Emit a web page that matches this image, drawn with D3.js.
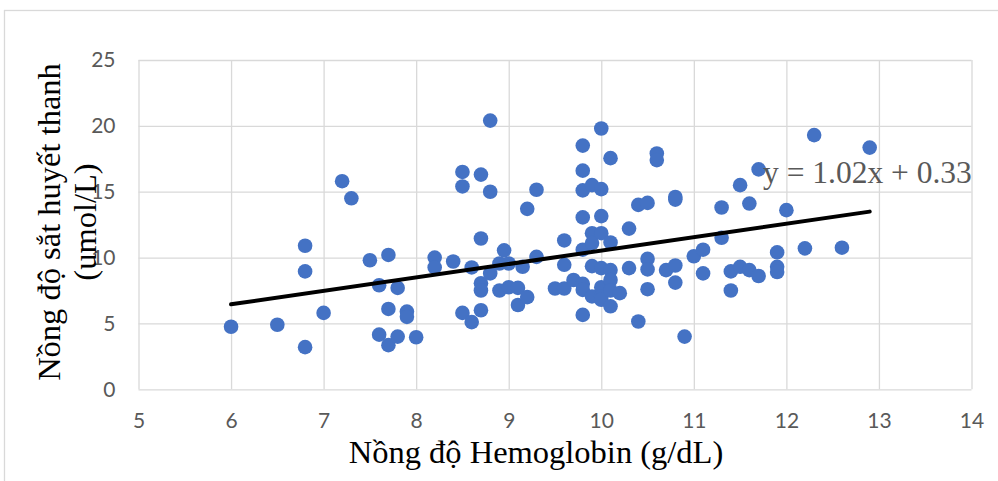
<!DOCTYPE html>
<html>
<head>
<meta charset="utf-8">
<script src="https://cdn.jsdelivr.net/npm/d3@7"></script>
<style>
  body { margin: 0; background: #fff; }
  .tick text { font-family: Lato, "Open Sans", sans-serif; font-size: 21px; fill: #595959; }
  .tick line { stroke: #d9d9d9; stroke-width: 1.3; }
  .domain { display: none; }
</style>
</head>
<body>
<div id="chart"></div>
<script>
// Hemoglobin (g/dL)
const hb = [
  6.0, 6.5, 6.8, 6.8, 6.8, 7.0, 7.2, 7.3, 7.5, 7.6, 7.6, 7.7, 7.7, 7.7, 7.8, 7.8,
  7.9, 7.9, 8.0, 8.2, 8.2, 8.4, 8.5, 8.5, 8.5, 8.6, 8.6, 8.7, 8.7, 8.7, 8.7, 8.7,
  8.8, 8.8, 8.8, 8.9, 8.9, 8.95, 9.0, 9.0, 9.1, 9.1, 9.15, 9.2, 9.2, 9.3, 9.3,
  9.5, 9.6, 9.6, 9.6, 9.7, 9.8, 9.8, 9.8, 9.8, 9.8, 9.8, 9.8, 9.8, 9.9, 9.9, 9.9,
  9.9, 9.9, 10.0, 10.0, 10.0, 10.0, 10.0, 10.0, 10.0, 10.0, 10.1, 10.1, 10.1, 10.1,
  10.1, 10.1, 10.2, 10.3, 10.3, 10.4, 10.4, 10.5, 10.5, 10.5, 10.5, 10.6, 10.6,
  10.7, 10.8, 10.8, 10.8, 10.8, 10.9, 11.0, 11.1, 11.1, 11.3, 11.3, 11.4, 11.4,
  11.5, 11.5, 11.6, 11.6, 11.7, 11.7, 11.9, 11.9, 11.9, 12.0, 12.2, 12.3, 12.6, 12.9
];
// Serum iron (umol/L)
const iron = [
  4.75, 4.9, 10.9, 8.95, 3.2, 5.8, 15.8, 14.5, 9.8, 7.9, 4.15, 10.2, 6.1, 3.35, 7.7, 4.0,
  5.9, 5.5, 3.95, 10.0, 9.25, 9.7, 16.5, 15.4, 5.8, 9.25, 5.1, 16.3, 11.45, 8.05, 7.5, 6.0,
  20.4, 15.0, 8.8, 9.55, 7.5, 10.55, 9.55, 7.75, 7.7, 6.4, 9.3, 13.7, 7.0, 15.15, 10.05,
  7.65, 11.3, 9.45, 7.65, 8.3, 18.5, 16.6, 15.1, 13.05, 10.6, 8.0, 7.55, 5.65, 15.5, 11.85, 11.1,
  9.35, 7.05, 19.8, 15.2, 13.15, 11.85, 9.2, 7.75, 7.05, 6.8, 17.55, 11.15, 9.05, 8.3,
  7.5, 6.3, 7.3, 12.2, 9.2, 14.0, 5.15, 14.15, 9.9, 9.1, 7.6, 17.9, 17.4,
  9.05, 14.6, 14.4, 9.4, 8.1, 4.0, 10.1, 10.6, 8.8, 13.8, 11.5, 8.95, 7.5,
  15.5, 9.3, 14.1, 9.05, 16.7, 8.6, 10.4, 9.3, 8.9, 13.6, 10.7, 19.3, 10.75, 18.35
];
const xTicks = [5, 6, 7, 8, 9, 10, 11, 12, 13, 14];
const yTicks = [0, 5, 10, 15, 20, 25];
const slope = 1.02, intercept = 0.33;
const eqLabel = "y = 1.02x + 0.33";
const xTitle = "Nồng độ Hemoglobin (g/dL)";
const yTitle = ["Nồng độ sắt huyết thanh", "(umol/L)"];

const W = 998, H = 481;
const margin = { top: 60, right: 26.5, bottom: 91.7, left: 138.5 };
const width = W - margin.left - margin.right;
const height = H - margin.top - margin.bottom;

const root = d3.select("#chart").append("svg")
  .attr("width", W).attr("height", H);

// outer chart border
root.append("rect")
  .attr("x", 4.5).attr("y", 10.5)
  .attr("width", 1000).attr("height", 500)
  .attr("fill", "none").attr("stroke", "#d9d9d9").attr("stroke-width", 1.3);

const svg = root.append("g")
  .attr("transform", `translate(${margin.left}, ${margin.top})`);

const x = d3.scaleLinear().domain([5, 14]).range([0, width]);
const y = d3.scaleLinear().domain([0, 25]).range([height, 0]);

// grid + tick labels
svg.append("g")
  .attr("transform", `translate(0, ${height})`)
  .call(d3.axisBottom(x).tickValues(xTicks).tickSize(-height).tickPadding(24));

svg.append("g")
  .call(d3.axisLeft(y).tickValues(yTicks).tickSize(-width).tickPadding(23));

// points
const pts = hb.map((v, i) => [v, iron[i]]);
svg.selectAll("circle.pt")
  .data(pts)
  .join("circle")
  .attr("class", "pt")
  .attr("cx", (d) => x(d[0]))
  .attr("cy", (d) => y(d[1]))
  .attr("r", 7.3)
  .attr("fill", "#4472c4");

// linear trendline
const ext = d3.extent(hb);
svg.append("line")
  .attr("x1", x(ext[0])).attr("y1", y(slope * ext[0] + intercept))
  .attr("x2", x(ext[1])).attr("y2", y(slope * ext[1] + intercept))
  .attr("stroke", "#000").attr("stroke-width", 4).attr("stroke-linecap", "round");

svg.append("text")
  .attr("x", 763 - margin.left).attr("y", 183 - margin.top)
  .attr("font-family", "'Liberation Serif', 'Times New Roman', serif")
  .attr("font-size", 31.5).attr("fill", "#595959")
  .text(eqLabel);

// axis titles
root.append("text")
  .attr("x", 536).attr("y", 463)
  .attr("text-anchor", "middle")
  .attr("font-family", "'Liberation Serif', 'Times New Roman', serif")
  .attr("font-size", 32.5).attr("fill", "#000")
  .text(xTitle);

root.append("text")
  .attr("transform", "translate(60, 222) rotate(-90)")
  .attr("text-anchor", "middle")
  .attr("font-family", "'Liberation Serif', 'Times New Roman', serif")
  .attr("font-size", 32.5).attr("fill", "#000")
  .selectAll("tspan")
  .data(yTitle)
  .join("tspan")
  .attr("x", 0)
  .attr("dy", (d, i) => (i ? 36 : 0))
  .text((d) => d);
</script>
</body>
</html>
